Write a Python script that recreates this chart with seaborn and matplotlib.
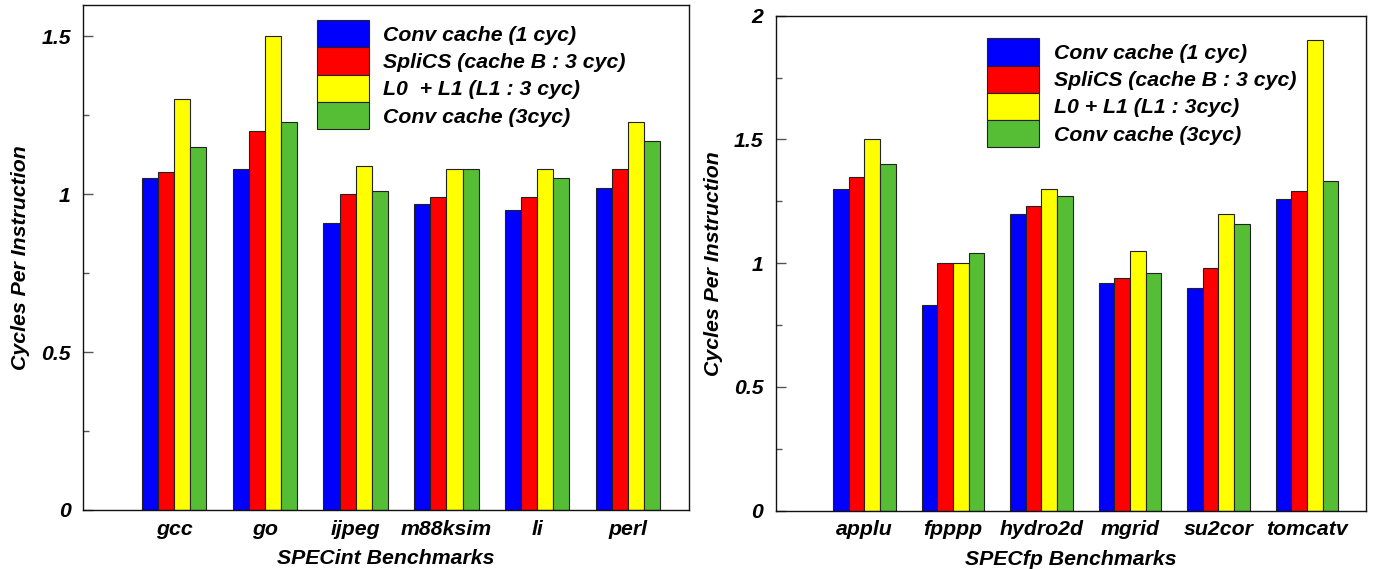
import matplotlib
matplotlib.use("Agg")
import matplotlib.pyplot as plt
from matplotlib.ticker import MultipleLocator, FuncFormatter
import seaborn as sns
import pandas as pd

# SPECint results (cycles per instruction)
int_benchmarks = ["gcc", "go", "ijpeg", "m88ksim", "li", "perl"]
int_conv_1cyc = [1.05, 1.08, 0.91, 0.97, 0.95, 1.02]
int_splics = [1.07, 1.20, 1.00, 0.99, 0.99, 1.08]
int_l0_l1 = [1.30, 1.50, 1.09, 1.08, 1.08, 1.23]
int_conv_3cyc = [1.15, 1.23, 1.01, 1.08, 1.05, 1.17]
int_labels = ["Conv cache (1 cyc)", "SpliCS (cache B : 3 cyc)",
              "L0  + L1 (L1 : 3 cyc)", "Conv cache (3cyc)"]

# SPECfp results (cycles per instruction)
fp_benchmarks = ["applu", "fpppp", "hydro2d", "mgrid", "su2cor", "tomcatv"]
fp_conv_1cyc = [1.30, 0.83, 1.20, 0.92, 0.90, 1.26]
fp_splics = [1.35, 1.00, 1.23, 0.94, 0.98, 1.29]
fp_l0_l1 = [1.50, 1.00, 1.30, 1.05, 1.20, 1.90]
fp_conv_3cyc = [1.40, 1.04, 1.27, 0.96, 1.16, 1.33]
fp_labels = ["Conv cache (1 cyc)", "SpliCS (cache B : 3 cyc)",
             "L0 + L1 (L1 : 3cyc)", "Conv cache (3cyc)"]

colors = ["#0000FF", "#FF0000", "#FFFF00", "#55BE35"]

sns.set_theme(style="white")
plt.rcParams["font.family"] = ["Liberation Sans", "DejaVu Sans"]
plt.rcParams["font.weight"] = "bold"
plt.rcParams["font.style"] = "italic"
plt.rcParams["text.color"] = "black"
plt.rcParams["axes.labelcolor"] = "black"

FS = 15.3


def long_table(benchmarks, series, labels):
    rows = []
    for label, values in zip(labels, series):
        for b, v in zip(benchmarks, values):
            rows.append({"bench": b, "config": label, "cpi": v})
    return pd.DataFrame(rows)


def draw_panel(ax, benchmarks, series, labels, ymax, xlabel, legend_anchor):
    df = long_table(benchmarks, series, labels)
    sns.barplot(data=df, x="bench", y="cpi", hue="config",
                order=benchmarks, hue_order=labels, palette=colors,
                width=0.71, gap=0, edgecolor="#222222", linewidth=0.8,
                saturation=1, errorbar=None, ax=ax)
    handles, hl = ax.get_legend_handles_labels()
    if ax.get_legend() is not None:
        ax.get_legend().remove()
    ax.legend(handles, hl, loc="upper left", bbox_to_anchor=legend_anchor,
              frameon=False, borderpad=0, borderaxespad=0,
              handlelength=2.45, handleheight=1.6, labelspacing=0,
              handletextpad=0.68,
              prop={"size": FS, "weight": "bold", "style": "italic"})

    ax.set_xlim(-1.0, 5.67)
    ax.set_ylim(0, ymax)
    ax.yaxis.set_major_locator(MultipleLocator(0.5))
    ax.yaxis.set_minor_locator(MultipleLocator(0.25))
    ax.yaxis.set_major_formatter(FuncFormatter(lambda v, p: f"{v:g}"))
    ax.tick_params(axis="y", which="major", direction="in", length=7,
                   width=1, color="#555555", labelcolor="black", pad=9,
                   labelsize=FS, left=True, right=False)
    ax.tick_params(axis="y", which="minor", direction="in", length=4,
                   width=1, color="#555555", left=True, right=False)
    ax.tick_params(axis="x", length=0, pad=7, labelsize=FS,
                   labelcolor="black")
    for lab in ax.get_xticklabels() + ax.get_yticklabels():
        lab.set_fontweight("bold")
        lab.set_fontstyle("italic")

    for sp in ax.spines.values():
        sp.set_visible(True)
        sp.set_color("#111111")
        sp.set_linewidth(1.0)

    ax.set_xlabel(xlabel, fontsize=FS, fontweight="bold", fontstyle="italic",
                  labelpad=7.5)
    ax.set_ylabel("Cycles Per Instruction", fontsize=FS, fontweight="bold",
                  fontstyle="italic", labelpad=8)


fig = plt.figure(figsize=(13.77, 5.69), dpi=100)
ax1 = fig.add_axes([0.0605, 0.1037, 0.4397, 0.888])
ax2 = fig.add_axes([0.5635, 0.1025, 0.4287, 0.870])

draw_panel(ax1, int_benchmarks,
           [int_conv_1cyc, int_splics, int_l0_l1, int_conv_3cyc],
           int_labels, 1.6, "SPECint Benchmarks", (0.3855, 0.9697))
draw_panel(ax2, fp_benchmarks,
           [fp_conv_1cyc, fp_splics, fp_l0_l1, fp_conv_3cyc],
           fp_labels, 2.0, "SPECfp Benchmarks", (0.358, 0.9543))

fig.savefig("out.png", dpi=100)
